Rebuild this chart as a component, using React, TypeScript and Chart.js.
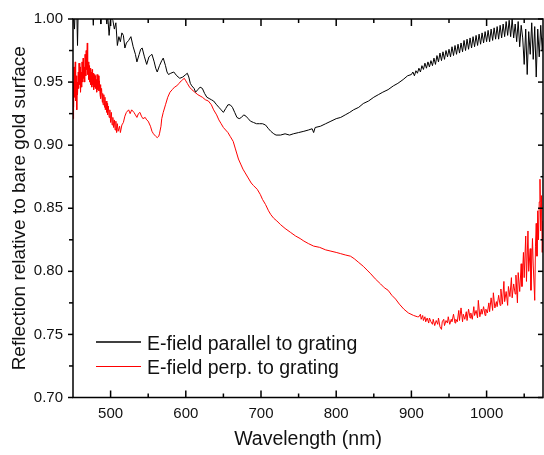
import React, { useEffect, useRef } from "react";
import { Chart, registerables } from "chart.js";

Chart.register(...registerables);

const X_TICKS = [500, 600, 700, 800, 900, 1000];
const X_MINOR = [550, 650, 750, 850, 950, 1050];
const Y_TICKS = [0.7, 0.75, 0.8, 0.85, 0.9, 0.95, 1.0];
const Y_MINOR = [0.725, 0.775, 0.825, 0.875, 0.925, 0.975];

const SERIES_LABELS = ["E-field parallel to grating", "E-field perp. to grating"];

const parX = [
  450, 452, 453, 455, 456, 457, 465, 470, 476, 477, 478, 486, 487, 488, 493, 495, 496, 498, 500, 503,
  505, 507, 509, 511, 513, 515, 517, 519, 521, 524, 527, 530, 533, 535, 538, 540, 542, 545, 548, 551,
  553, 555, 558, 560, 562, 565, 568, 570, 573, 575, 577, 580, 584, 588, 592, 596, 600, 602, 604, 606,
  608, 611, 613, 616, 619, 622, 625, 628, 631, 634, 637, 641, 644, 647, 650, 653, 656, 659, 662, 665,
  668, 671, 674, 677, 680, 683, 686, 690, 694, 698, 702, 706, 710, 713, 717, 720, 726, 732, 738, 743,
  750, 757, 763, 768, 770, 772, 779, 786, 793, 800, 806, 812, 818, 823, 830, 836, 843, 850, 856, 862,
  869, 876, 882, 889, 895, 900, 902, 904, 906, 908, 910, 912, 914, 916, 918, 920, 922, 924, 926, 928,
  930, 932, 934, 936, 938, 940, 942, 944, 946, 948, 950, 952, 954, 956, 958, 960, 962, 964, 966, 968,
  970, 972, 974, 976, 978, 980, 982, 984, 986, 988, 990, 992, 994, 996, 998, 1000, 1002, 1004, 1006, 1008,
  1010, 1012, 1014, 1016, 1018, 1020, 1022, 1024, 1026, 1028, 1030, 1032, 1034, 1036, 1038, 1040, 1042, 1044, 1046, 1048,
  1050, 1052, 1054, 1056, 1058, 1060, 1062, 1064, 1066, 1068, 1070, 1072, 1074, 1075,
];
const parY = [
  1.005, 0.992, 1.01, 1.008, 0.979, 1.01, 1.01, 1.008, 1.006, 0.995, 1.008, 1.008, 0.996, 1.008, 1.006, 0.996, 1.004, 0.987, 1.001, 0.999,
  0.992, 0.997, 0.979, 0.986, 0.982, 0.989, 0.987, 0.977, 0.981, 0.983, 0.986, 0.978, 0.972, 0.966, 0.972, 0.976, 0.977, 0.97, 0.964, 0.97,
  0.971, 0.972, 0.966, 0.961, 0.958, 0.963, 0.967, 0.969, 0.963, 0.958, 0.956, 0.957, 0.958, 0.955, 0.953, 0.954, 0.956, 0.957, 0.954, 0.949,
  0.947, 0.945, 0.942, 0.944, 0.946, 0.945, 0.941, 0.938, 0.937, 0.936, 0.935, 0.932, 0.93, 0.928, 0.926, 0.929, 0.932, 0.932, 0.93, 0.926,
  0.922, 0.921, 0.922, 0.924, 0.923, 0.921, 0.919, 0.918, 0.917, 0.917, 0.917, 0.916, 0.913, 0.911, 0.909, 0.908, 0.908, 0.909, 0.908, 0.909,
  0.91, 0.911, 0.912, 0.913, 0.91, 0.914, 0.915, 0.917, 0.919, 0.921, 0.922, 0.924, 0.926, 0.928, 0.93, 0.933, 0.935, 0.938, 0.94, 0.942,
  0.944, 0.947, 0.949, 0.952, 0.955, 0.956, 0.958, 0.955, 0.959, 0.957, 0.961, 0.958, 0.963, 0.96, 0.965, 0.961, 0.966, 0.962, 0.967, 0.963,
  0.969, 0.964, 0.971, 0.966, 0.973, 0.967, 0.974, 0.968, 0.975, 0.97, 0.976, 0.97, 0.978, 0.971, 0.979, 0.972, 0.98, 0.973, 0.981, 0.974,
  0.983, 0.975, 0.984, 0.976, 0.985, 0.977, 0.986, 0.978, 0.987, 0.979, 0.988, 0.98, 0.989, 0.981, 0.99, 0.982, 0.991, 0.982, 0.992, 0.983,
  0.993, 0.984, 0.994, 0.984, 0.995, 0.985, 0.996, 0.986, 0.998, 0.987, 0.999, 0.986, 1.0, 0.985, 0.996, 0.982, 0.998, 0.978, 0.995, 0.985,
  0.964, 0.992, 0.956, 0.99, 0.972, 0.997, 0.968, 0.994, 0.954, 0.992, 0.97, 0.995, 0.975, 0.985,
];

const perpX = [
  450, 450.5, 451, 451.5, 452, 453, 453.5, 454, 455, 455.5, 456, 457, 457.5, 458, 459, 459.5, 460, 461, 461.5, 462,
  463, 463.5, 464, 465, 465.5, 466, 467, 467.5, 468, 469, 469.5, 470, 471, 471.5, 472, 473, 473.5, 474, 475, 475.5,
  476, 477, 477.5, 478, 479, 479.5, 480, 481, 481.5, 482, 483, 484, 484.5, 485, 486, 486.5, 487, 488, 489, 489.5,
  490, 491, 492, 492.5, 493, 494, 495, 495.5, 496, 497, 498, 499, 500, 501, 502, 503, 504, 505, 506, 507,
  508, 509, 510, 512, 513, 515, 517, 519, 521, 524, 526, 528, 531, 533, 535, 537, 539, 541, 543, 546,
  548, 550, 553, 555, 557, 560, 562, 564, 565, 567, 568, 570, 573, 576, 579, 582, 585, 588, 591, 594,
  596, 598, 600, 602, 605, 608, 612, 616, 619, 622, 626, 630, 634, 637, 641, 644, 647, 650, 653, 656,
  659, 663, 666, 670, 673, 676, 679, 683, 687, 690, 695, 699, 702, 706, 710, 713, 717, 721, 726, 732,
  739, 746, 752, 757, 763, 770, 778, 786, 793, 800, 806, 812, 819, 824, 830, 836, 841, 846, 852, 859,
  864, 869, 874, 879, 884, 890, 896, 903, 908, 910, 912, 913, 915, 916, 918, 919, 921, 923, 924, 926,
  928, 929, 931, 933, 935, 936, 938, 940, 941, 943, 944, 946, 948, 949, 951, 953, 954, 956, 958, 959,
  961, 963, 964, 966, 968, 969, 971, 973, 974, 976, 978, 979, 981, 983, 984, 986, 988, 989, 991, 993,
  994, 996, 998, 999, 1001, 1003, 1004, 1006, 1008, 1009, 1011, 1013, 1014, 1016, 1018, 1019, 1021, 1023, 1024, 1026,
  1028, 1029, 1031, 1033, 1034, 1036, 1038, 1039, 1041, 1042, 1044, 1046, 1047, 1049, 1050, 1052, 1053, 1055, 1056, 1058,
  1059, 1061, 1062, 1064, 1065, 1066, 1067, 1068, 1069, 1070, 1071, 1072, 1073, 1074, 1075,
];
const perpY = [
  0.921, 0.95, 0.93, 0.962, 0.938, 0.966, 0.935, 0.955, 0.928, 0.95, 0.94, 0.958, 0.945, 0.965, 0.948, 0.962, 0.942, 0.958, 0.946, 0.966,
  0.95, 0.969, 0.953, 0.962, 0.95, 0.972, 0.955, 0.975, 0.96, 0.981, 0.956, 0.966, 0.952, 0.963, 0.95, 0.961, 0.948, 0.958, 0.946, 0.96,
  0.948, 0.957, 0.944, 0.956, 0.946, 0.955, 0.945, 0.952, 0.942, 0.956, 0.944, 0.955, 0.943, 0.951, 0.94, 0.948, 0.937, 0.945, 0.934, 0.941,
  0.932, 0.94, 0.93, 0.938, 0.928, 0.935, 0.926, 0.933, 0.924, 0.931, 0.922, 0.928, 0.918, 0.926, 0.916, 0.922, 0.914, 0.92, 0.912, 0.919,
  0.91, 0.917, 0.911, 0.915, 0.91, 0.916, 0.918, 0.923, 0.926, 0.928, 0.925, 0.928, 0.926, 0.924, 0.922, 0.925, 0.926, 0.923, 0.921, 0.922,
  0.92, 0.919, 0.915, 0.911, 0.909, 0.907, 0.906, 0.907, 0.909, 0.915, 0.921, 0.926, 0.932, 0.938, 0.942, 0.944, 0.946, 0.947, 0.949, 0.951,
  0.952, 0.953, 0.951, 0.949, 0.946, 0.944, 0.942, 0.94, 0.939, 0.938, 0.936, 0.935, 0.932, 0.928, 0.924, 0.92, 0.917, 0.914, 0.912, 0.91,
  0.907, 0.903, 0.897, 0.889, 0.885, 0.881, 0.878, 0.874, 0.87, 0.868, 0.865, 0.861, 0.857, 0.853, 0.848, 0.845, 0.842, 0.84, 0.837, 0.834,
  0.831, 0.828, 0.826, 0.824, 0.822, 0.82, 0.819, 0.817, 0.816, 0.815, 0.814, 0.813, 0.812, 0.81, 0.807, 0.804, 0.801, 0.798, 0.794, 0.79,
  0.787, 0.785, 0.781, 0.778, 0.774, 0.77, 0.767, 0.765, 0.764, 0.764, 0.766, 0.762, 0.765, 0.761, 0.764, 0.76, 0.763, 0.759, 0.763, 0.76,
  0.758, 0.762, 0.757, 0.761, 0.758, 0.763, 0.756, 0.754, 0.76, 0.762, 0.757, 0.761, 0.759, 0.764, 0.758, 0.762, 0.76, 0.766, 0.759, 0.762,
  0.76, 0.769, 0.761, 0.771, 0.76, 0.766, 0.762, 0.768, 0.761, 0.77, 0.763, 0.767, 0.762, 0.772, 0.765, 0.769, 0.763, 0.777, 0.764, 0.77,
  0.766, 0.772, 0.765, 0.77, 0.767, 0.775, 0.768, 0.779, 0.769, 0.783, 0.771, 0.776, 0.772, 0.781, 0.773, 0.786, 0.774, 0.792, 0.776, 0.784,
  0.773, 0.788, 0.78, 0.795, 0.779, 0.79, 0.782, 0.797, 0.775, 0.799, 0.784, 0.806, 0.788, 0.815, 0.795, 0.828, 0.792, 0.832, 0.8, 0.818,
  0.785, 0.826, 0.805, 0.777, 0.82, 0.838, 0.812, 0.848, 0.825, 0.855, 0.873, 0.832, 0.86, 0.815, 0.84,
];

const FONT = "'Liberation Sans', Arial, Helvetica, sans-serif";
const TEXT_COLOR = "#111";

const framePlugin = {
  id: "frameTicksLegend",
  afterDraw(chart: any) {
    const { ctx, chartArea, scales } = chart;
    const { left, right, top, bottom } = chartArea;
    const xs = scales.x;
    const ys = scales.y;
    ctx.save();
    ctx.strokeStyle = "#000";
    ctx.lineWidth = 1.5;
    ctx.strokeRect(left, top, right - left, bottom - top);
    const seg = (x1: number, y1: number, x2: number, y2: number) => {
      ctx.beginPath();
      ctx.moveTo(x1, y1);
      ctx.lineTo(x2, y2);
      ctx.stroke();
    };
    for (const v of X_TICKS) {
      const px = xs.getPixelForValue(v);
      seg(px, bottom, px, bottom - 7);
      seg(px, top, px, top + 7);
    }
    for (const v of X_MINOR) {
      const px = xs.getPixelForValue(v);
      if (px > right) continue;
      seg(px, bottom, px, bottom - 4);
      seg(px, top, px, top + 4);
    }
    for (const v of Y_TICKS) {
      const py = ys.getPixelForValue(v);
      seg(left, py, left - 5, py);
      seg(right, py, right - 5, py);
    }
    for (const v of Y_MINOR) {
      const py = ys.getPixelForValue(v);
      seg(left, py, left - 4, py);
      seg(right, py, right - 2.5, py);
    }
    // legend
    const ds = chart.data.datasets;
    const lx1 = left + 23;
    const lx2 = left + 68;
    const rows = [bottom - 55.5, bottom - 31];
    ctx.font = `19.5px ${FONT}`;
    ctx.textBaseline = "alphabetic";
    ctx.textAlign = "left";
    ds.forEach((d: any, i: number) => {
      const ly = rows[i];
      ctx.strokeStyle = d.borderColor;
      ctx.lineWidth = i === 0 ? 1.3 : 1;
      seg(lx1, ly, lx2, ly);
      ctx.fillStyle = TEXT_COLOR;
      ctx.fillText(d.label, left + 74, ly + 7.5);
    });
    ctx.restore();
  },
};

export default function App() {
  const ref = useRef<HTMLCanvasElement | null>(null);
  useEffect(() => {
    if (!ref.current) return;
    const chart = new Chart(ref.current, {
      type: "line",
      data: {
        datasets: [
          {
            label: SERIES_LABELS[0],
            data: parX.map((x, i) => ({ x, y: parY[i] })),
            borderColor: "#000000",
            borderWidth: 1,
            pointRadius: 0,
            tension: 0,
          },
          {
            label: SERIES_LABELS[1],
            data: perpX.map((x, i) => ({ x, y: perpY[i] })),
            borderColor: "#ff0000",
            borderWidth: 1,
            pointRadius: 0,
            tension: 0,
          },
        ],
      },
      options: {
        animation: false,
        responsive: false,
        devicePixelRatio: 1,
        layout: { padding: { top: 16, right: 1, left: 0, bottom: 0 } },
        plugins: { legend: { display: false }, tooltip: { enabled: false } },
        scales: {
          x: {
            type: "linear",
            min: 450,
            max: 1075,
            grid: { display: false, drawTicks: false },
            border: { display: false },
            afterBuildTicks: (s: any) => {
              s.ticks = X_TICKS.map((v) => ({ value: v }));
            },
            afterFit: (s: any) => {
              s.height = 57.5;
            },
            ticks: {
              autoSkip: false,
              maxRotation: 0,
              padding: 7,
              color: TEXT_COLOR,
              font: { family: FONT, size: 15 },
              callback: (v: any) => String(v),
            },
            title: {
              display: true,
              text: "Wavelength (nm)",
              color: TEXT_COLOR,
              font: { family: FONT, size: 19.5 },
              padding: { top: 0, bottom: 4 },
            },
          },
          y: {
            type: "linear",
            min: 0.7,
            max: 1.0,
            grid: { display: false, drawTicks: false },
            border: { display: false },
            afterBuildTicks: (s: any) => {
              s.ticks = Y_TICKS.map((v) => ({ value: v }));
            },
            afterFit: (s: any) => {
              s.width = 73;
            },
            ticks: {
              autoSkip: false,
              padding: 10,
              color: TEXT_COLOR,
              font: { family: FONT, size: 15 },
              callback: (v: any) => Number(v).toFixed(2),
            },
            title: {
              display: true,
              text: "Reflection relative to bare gold surface",
              color: TEXT_COLOR,
              font: { family: FONT, size: 19 },
              padding: { top: 8, bottom: 0 },
            },
          },
        },
      },
      plugins: [framePlugin],
    });
    return () => chart.destroy();
  }, []);
  return (
    <div style={{ position: "fixed", left: 0, top: 0, width: 544, height: 455, background: "#fff" }}>
      <canvas ref={ref} width={544} height={455} style={{ display: "block" }} />
    </div>
  );
}
